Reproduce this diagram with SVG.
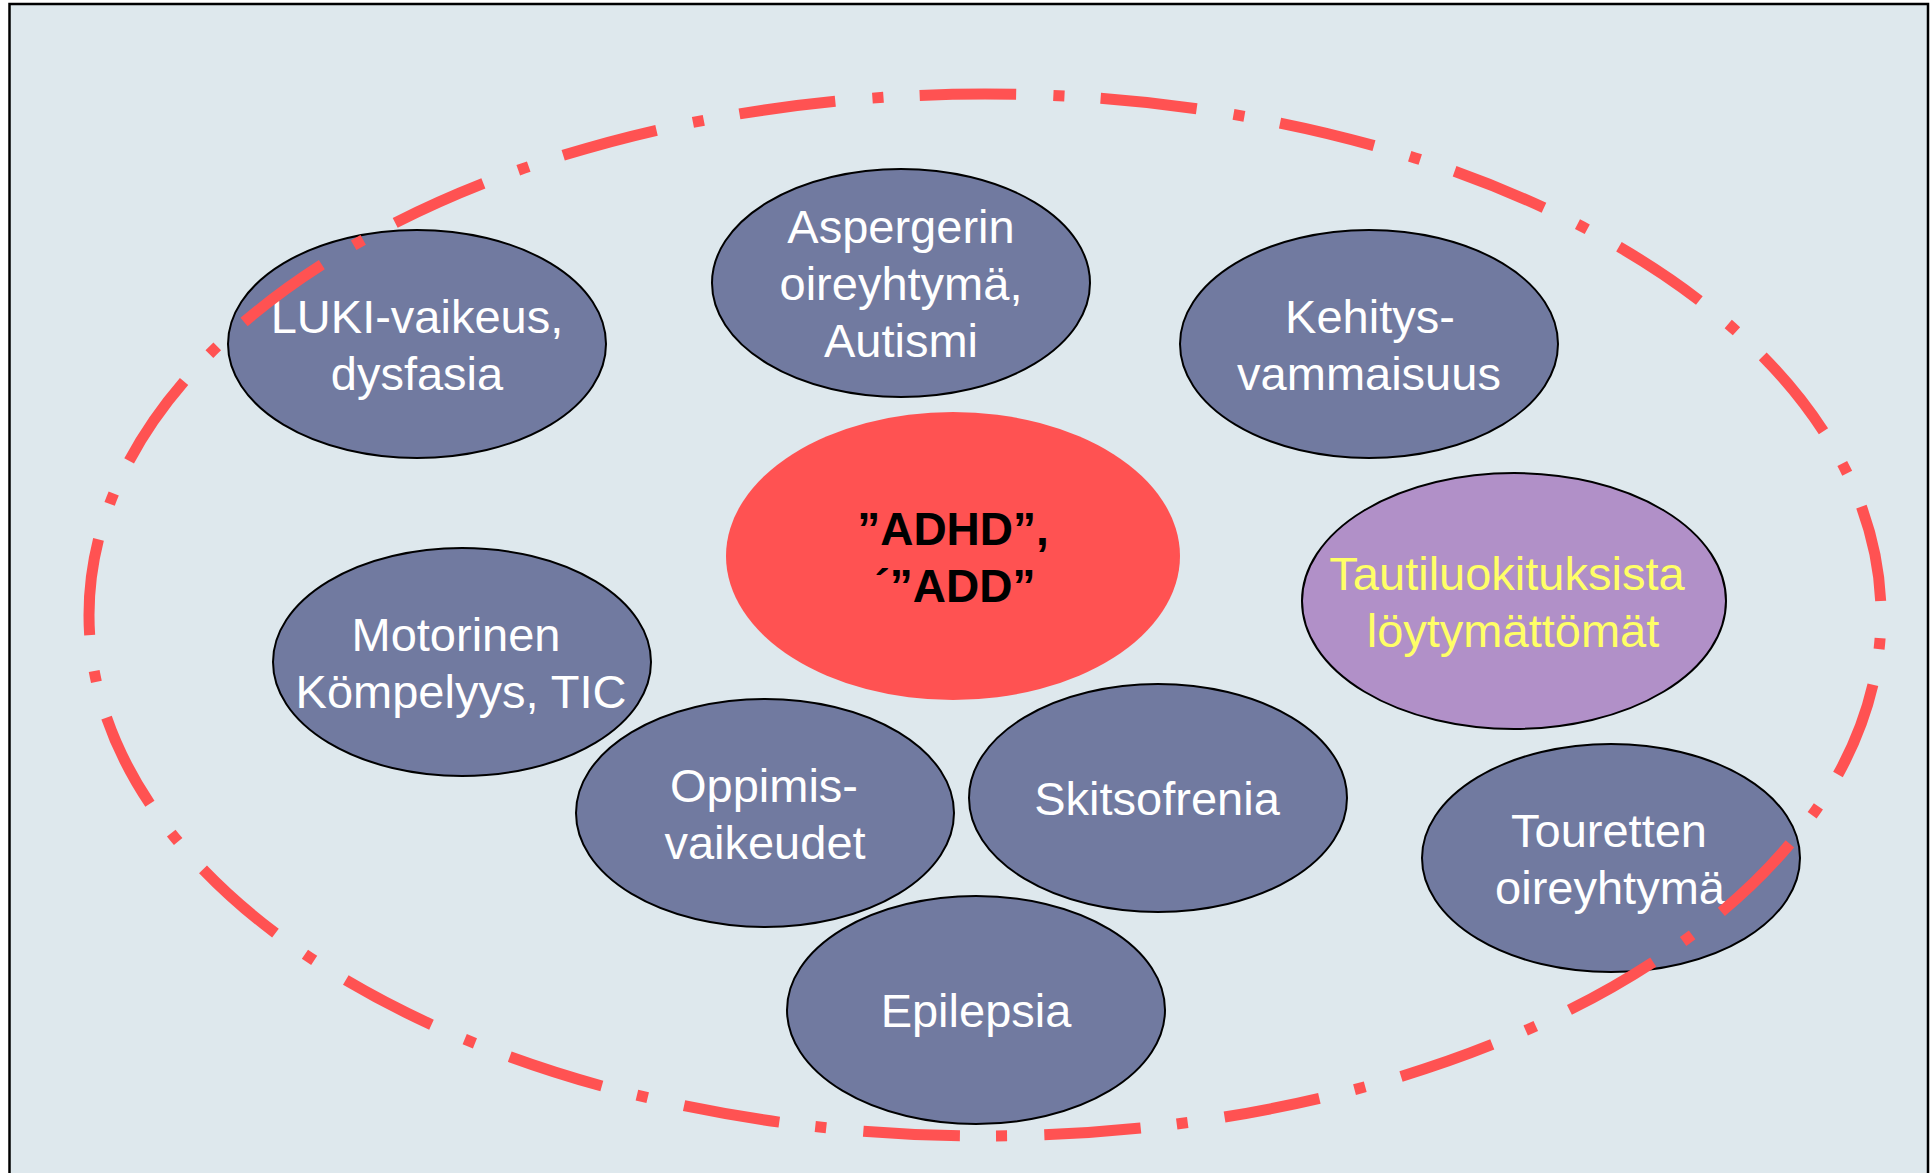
<svg xmlns="http://www.w3.org/2000/svg" width="1932" height="1173" viewBox="0 0 1932 1173">
  <style>
    .node { fill: #717AA0; stroke: #000; stroke-width: 2; }
    .lbl { font-family: "Liberation Sans", Arial, Helvetica, sans-serif; font-size: 47px; fill: #FFFFFF; text-anchor: middle; }
    .yel { fill: #FFFF66; }
    .bold { font-family: "Liberation Sans", Arial, Helvetica, sans-serif; font-size: 46px; font-weight: bold; fill: #000; text-anchor: middle; }
  </style>
  <rect x="0" y="0" width="1932" height="1173" fill="#FFFFFF"/>
  <rect x="9.5" y="4" width="1918.5" height="1185" fill="#DEE8ED" stroke="#000" stroke-width="2.5"/>

  <g id="node-luki">
    <ellipse class="node" cx="417" cy="344" rx="189" ry="114"/>
    <text class="lbl" x="417" y="333">LUKI-vaikeus,</text>
    <text class="lbl" x="417" y="390">dysfasia</text>
  </g>
  <g id="node-asperger">
    <ellipse class="node" cx="901" cy="283" rx="189" ry="114"/>
    <text class="lbl" x="901" y="243">Aspergerin</text>
    <text class="lbl" x="901" y="300">oireyhtymä,</text>
    <text class="lbl" x="901" y="357">Autismi</text>
  </g>
  <g id="node-kehitys">
    <ellipse class="node" cx="1369" cy="344" rx="189" ry="114"/>
    <text class="lbl" x="1370" y="333">Kehitys-</text>
    <text class="lbl" x="1369" y="390">vammaisuus</text>
  </g>
  <g id="node-adhd">
    <ellipse cx="953" cy="556" rx="227" ry="144" fill="#FF5252"/>
    <text class="bold" x="953" y="545">”ADHD”,</text>
    <text class="bold" x="955" y="602">´”ADD”</text>
  </g>
  <g id="node-tauti">
    <ellipse cx="1514" cy="601" rx="212" ry="128" fill="#B190C8" stroke="#000" stroke-width="2"/>
    <text class="lbl yel" x="1507" y="590">Tautiluokituksista</text>
    <text class="lbl yel" x="1513" y="647">löytymättömät</text>
  </g>
  <g id="node-motorinen">
    <ellipse class="node" cx="462" cy="662" rx="189" ry="114"/>
    <text class="lbl" x="456" y="651">Motorinen</text>
    <text class="lbl" x="461" y="708">Kömpelyys, TIC</text>
  </g>
  <g id="node-oppimis">
    <ellipse class="node" cx="765" cy="813" rx="189" ry="114"/>
    <text class="lbl" x="764" y="802">Oppimis-</text>
    <text class="lbl" x="765" y="859">vaikeudet</text>
  </g>
  <g id="node-skitsofrenia">
    <ellipse class="node" cx="1158" cy="798" rx="189" ry="114"/>
    <text class="lbl" x="1157" y="815">Skitsofrenia</text>
  </g>
  <g id="node-tourette">
    <ellipse class="node" cx="1611" cy="858" rx="189" ry="114"/>
    <text class="lbl" x="1609" y="847">Touretten</text>
    <text class="lbl" x="1610" y="904">oireyhtymä</text>
  </g>
  <g id="node-epilepsia">
    <ellipse class="node" cx="976" cy="1010" rx="189" ry="114"/>
    <text class="lbl" x="976" y="1027">Epilepsia</text>
  </g>

  <g id="boundary">
    <path d="M1881,615 A896,521 0 0 1 89,615 A896,521 0 0 1 1881,615 Z" fill="none" stroke="#FF5252" stroke-width="11" pathLength="4500" stroke-dasharray="96 37 11 36" stroke-dashoffset="110"/>
  </g>
</svg>
